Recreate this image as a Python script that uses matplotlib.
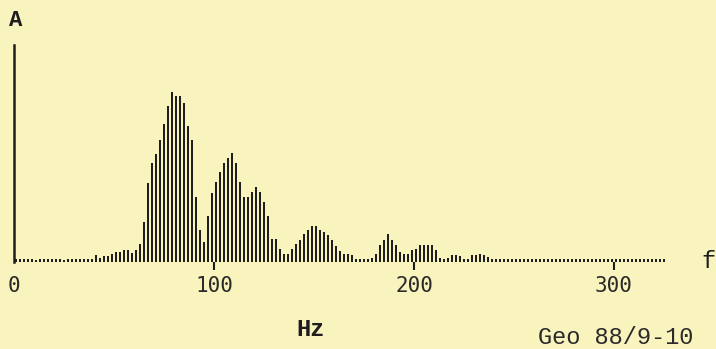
import matplotlib
matplotlib.use("Agg")
import matplotlib.pyplot as plt
import numpy as np

# spectrum bins, every 2 Hz
freqs = np.arange(1, 327, 2)
amps = (
    [3, 3, 3, 3, 3, 2, 3, 3, 3, 3, 3, 3, 2, 3, 3, 3, 3, 3, 3, 3]
    + [7, 4, 6, 6, 8, 10, 10, 12, 12, 9,
       12, 18, 40, 79, 99, 108, 122, 138, 156, 170,
       166, 166, 159, 136, 122, 65, 32, 20, 46, 69,
       80, 90, 99, 104, 109, 99, 80, 65, 65, 70,
       75, 70, 60, 46, 23, 23, 13, 8, 8, 13,
       18, 22, 28, 32, 36, 36, 32, 30, 27, 22,
       16, 11, 8, 8, 7, 3, 3, 3, 3, 4,
       8, 17, 22, 28, 22, 17, 10, 8, 8, 12,
       13, 17, 17, 17, 17, 12, 4, 3, 4, 7,
       7, 6, 3, 3, 7, 7, 8, 7, 5]
    + [3] * 44
)
xticks = [100, 200, 300]
xtick_labels = ["100", "200", "300"]

paper = "#f9f3bd"
ink = "#1e1e1e"

fig = plt.figure(figsize=(7.16, 3.49), dpi=100)
fig.patch.set_facecolor(paper)
ax = fig.add_axes([14 / 716, 87 / 349, 660 / 716, 217 / 349])
ax.set_facecolor(paper)

ax.bar(freqs, amps, width=1.05, color=ink, linewidth=0)

ax.set_xlim(0, 330)
ax.set_ylim(0, 217)
for s in ["top", "right", "bottom"]:
    ax.spines[s].set_visible(False)
ax.spines["left"].set_linewidth(1.8)
ax.spines["left"].set_color(ink)

ax.set_yticks([])
ax.set_xticks(xticks)
ax.set_xticklabels(xtick_labels, family="DejaVu Sans Mono", fontsize=15, color="#2a2a2a")
ax.tick_params(axis="x", length=6, width=1.5, color=ink, pad=4, direction="out")

fig.text(14 / 716, 1 - 286 / 349, "0", ha="center", va="center",
         family="DejaVu Sans Mono", fontsize=15, color="#2a2a2a")
fig.text(16 / 716, 1 - 20 / 349, "A", ha="center", va="center",
         family="Liberation Mono", fontweight="bold", fontsize=16, color=ink)
fig.text(708 / 716, 1 - 262 / 349, "f", ha="center", va="center",
         family="Liberation Mono", fontsize=17, color=ink)
fig.text(310 / 716, 1 - 330 / 349, "Hz", ha="center", va="center",
         family="Liberation Mono", fontweight="bold", fontsize=17, color=ink)
fig.text(616 / 716, 1 - 338 / 349, "Geo 88/9-10", ha="center", va="center",
         family="Liberation Mono", fontsize=17, color="#2a2a2a")

fig.savefig("out.png", dpi=100, facecolor=paper)
